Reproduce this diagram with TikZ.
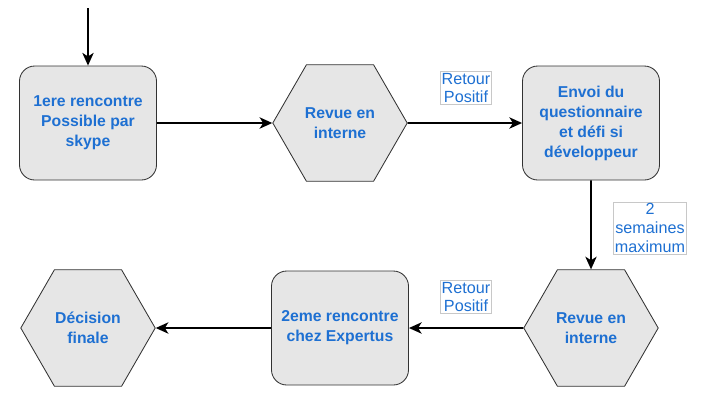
\documentclass[tikz,border=0pt]{standalone}
\usepackage{fontspec}
\setmainfont{Liberation Sans}
\usepackage{tikz}
\usepackage{xcolor}
\usetikzlibrary{shapes,shapes.geometric,arrows,arrows.meta,positioning,calc}
\definecolor{stepblue}{RGB}{30,112,210}
\definecolor{stepgray}{RGB}{230,230,230}
\definecolor{stepborder}{RGB}{50,50,50}
\definecolor{notegray}{RGB}{200,200,200}

\begin{document}
\begin{tikzpicture}[
    flow/.style={-{Stealth[length=9pt,width=8pt,inset=2.5pt]},line width=1.4pt},
    stepbox/.style={draw=stepborder,line width=0.6pt,fill=stepgray,rounded corners=0.38cm,minimum width=3.425cm,minimum height=2.85cm,align=center,text=stepblue,font=\fontsize{11.2}{14.2}\selectfont\bfseries,inner sep=2pt},
    stephex/.style={draw=stepborder,line width=0.6pt,fill=stepgray,regular polygon,regular polygon sides=6,minimum size=3.36cm,align=center,text=stepblue,font=\fontsize{11.2}{14.2}\selectfont\bfseries,inner sep=1pt},
    note/.style={draw=notegray,fill=white,align=center,text=stepblue,font=\fontsize{11.5}{13.5}\selectfont,inner sep=1pt}
]
\useasboundingbox (0,0) rectangle (17.75,-10.175);

% first row
\coordinate (start) at (2.2,-0.2);
\node[stepbox] (skype) at (2.2,-3.075) {1ere rencontre\\Possible par\\skype};
\node[stephex] (revue1) at (8.5,-3.075) {Revue en\\interne};
\node[stepbox] (envoi) at (14.775,-3.075) {Envoi du\\questionnaire\\et défi si\\développeur};

% second row
\node[stephex] (revue2) at (14.775,-8.2) {Revue en\\interne};
\node[stepbox] (expertus) at (8.5,-8.2) {2eme rencontre\\chez Expertus};
\node[stephex] (decision) at (2.2,-8.2) {Décision\\finale};

% notes
\node[note] (retour1) at (11.65,-2.2) {Retour\\Positif};
\node[note] (semaines) at (16.25,-5.7) {2\\semaines\\maximum};
\node[note] (retour2) at (11.65,-7.425) {Retour\\Positif};

% arrows
\draw[flow] (start) -- (skype);
\draw[flow] (skype) -- (revue1);
\draw[flow] (revue1) -- (envoi);
\draw[flow] (envoi) -- (revue2);
\draw[flow] (revue2) -- (expertus);
\draw[flow] (expertus) -- (decision);

\end{tikzpicture}
\end{document}
